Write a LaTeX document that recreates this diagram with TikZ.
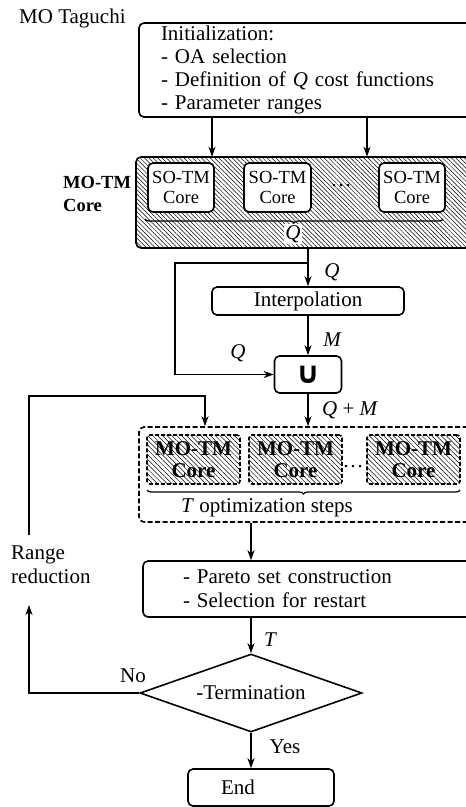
\documentclass[tikz,border=0pt]{standalone}
\usepackage{fontspec}
\setmainfont{Liberation Serif}
\newfontfamily\symfont{DejaVu Sans}
\usetikzlibrary{shapes.geometric,patterns.meta,decorations.pathreplacing,arrows.meta,calc}
\begin{document}
\begin{tikzpicture}[x=1pt,y=-1pt,
  every node/.style={font=\fontsize{21}{22.7}\selectfont, inner sep=0pt},
  frame/.style={draw, line width=1.6pt, rounded corners=5pt},
  box/.style={frame, fill=white},
  hatch/.style={pattern={Lines[angle=-45,distance=3.1pt,line width=0.5pt]}},
  arr/.style={line width=1.6pt, -{Stealth[length=10pt,width=7pt,inset=3pt]}},
  lab/.style={font=\fontsize{21}{22.7}\selectfont\itshape},
  brc/.style={decorate, decoration={brace,mirror,amplitude=4pt}, line width=1.2pt},
  sotm/.style={box, font=\fontsize{18.5}{20}\selectfont, minimum width=66pt, minimum height=49pt, align=center},
  motm/.style={frame, rounded corners=3pt, pattern={Lines[angle=-45,distance=3.4pt,line width=0.5pt]}, dashed, dash pattern=on 4pt off 2pt, font=\fontsize{21}{22}\selectfont\bfseries, minimum width=93pt, minimum height=49pt, align=center},
]
\clip (0,0) rectangle (466,807);

\node[anchor=west] (title) at (19,18) {MO Taguchi};
\node[box, minimum width=341pt, minimum height=94pt, text width=297pt, align=left, inner xsep=22pt] (init) at (309.5,70)
  {Initialization:\\- OA selection\\- Definition of \textit{Q} cost functions\\- Parameter ranges};

% MO-TM core
\node[frame, hatch, minimum width=344pt, minimum height=91pt] (core) at (308,202.5) {};
\node[sotm] (so1) at (181,187.5) {SO-TM\\Core};
\node[sotm, minimum width=67pt] (so2) at (277.5,187.5) {SO-TM\\Core};
\node[sotm] (so3) at (412,187.5) {SO-TM\\Core};
\node (dots1) at (341,186) {\dots};
\draw[brc] (145,219) -- (443,219);
\node[lab, fill=white, inner sep=1.5pt] (q0) at (293,234) {Q};
\node[anchor=west, align=left, font=\fontsize{18.5}{23}\selectfont\bfseries] (corelab) at (63,194) {MO-TM\\Core};

\coordinate (a1) at (212,0);
\coordinate (a2) at (367,0);
\draw[arr] (init.south -| a1) -- (core.north -| a1);
\draw[arr] (init.south -| a2) -- (core.north -| a2);

% interpolation and union
\node[box, minimum width=192pt, minimum height=28pt] (interp) at (308,301) {Interpolation};
\node[box, minimum width=67pt, minimum height=37pt] (union) at (308,374.5) {\fontsize{30}{30}\selectfont\symfont\bfseries ∪};
\draw[arr] (core.south) -- (interp.north);
\node[lab] (q1) at (332,272) {Q};
\coordinate (br) at (308,263);
\coordinate (bl) at (175,263);
\draw[arr] (br) -- (bl) |- (union.west);
\node[lab] (q2) at (238,353) {Q};
\draw[arr] (interp.south) -- (union.north);
\node[lab] (m1) at (332,340) {M};

% optimization steps
\node[frame, dashed, dash pattern=on 5pt off 2.5pt, minimum width=341pt, minimum height=95pt] (opt) at (309.5,474.5) {};
\draw[arr] (union.south) -- (union.south |- opt.north);
\node[anchor=west] (qm) at (322,410) {\textit{Q} + \textit{M}};
\node[motm] (mo1) at (193.5,459.5) {MO-TM\\Core};
\node[motm] (mo2) at (295.5,459.5) {MO-TM\\Core};
\node[motm] (mo3) at (413.5,459.5) {MO-TM\\Core};
\node (dots2) at (353,467) {\dots};
\draw[brc] (147,490) -- (460,490);
\node (tsteps) at (267,508) {\textit{T} optimization steps};

% pareto and termination
\node[box, minimum width=337pt, minimum height=56pt, text width=257pt, align=left, inner xsep=40pt, font=\fontsize{21}{24}\selectfont] (pareto) at (311.5,589)
  {- Pareto set construction\\- Selection for restart};
\node[draw, diamond, line width=1.6pt, minimum width=222pt, minimum height=78pt, aspect=2.85] (dia) at (251,693) {-Termination};
\node[box, minimum width=146pt, minimum height=37pt, text width=80pt, align=left, inner xsep=33pt] (end) at (261,787.5) {End};

\draw[arr] (opt.south -| dia.north) -- (pareto.north -| dia.north);
\draw[arr] (pareto.south -| dia.north) -- (dia.north);
\node[lab] (t1) at (270,640) {T};
\draw[arr] (dia.south) -- (dia.south |- end.north);
\node (yes) at (285,747) {Yes};
\node (no) at (133,676) {No};

% feedback
\node[anchor=west, align=left, font=\fontsize{21}{24}\selectfont] (rr) at (11,565) {Range\\reduction};
\coordinate (rb) at (29,605);
\coordinate (rt) at (29,535);
\coordinate (fc) at (29,396);
\coordinate (fx) at (205,0);
\draw[arr] (dia.west) -| (rb);
\draw[arr] (rt) -- (fc) -| (fx |- opt.north);
\end{tikzpicture}
\end{document}
